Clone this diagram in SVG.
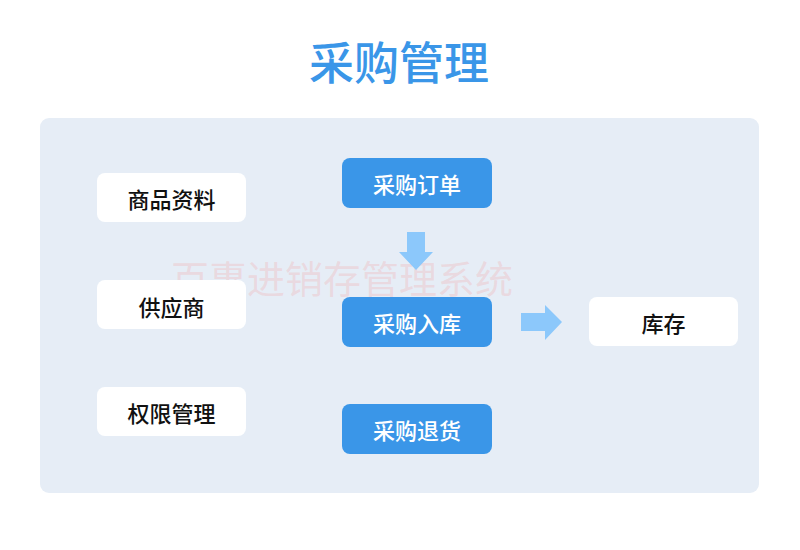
<svg xmlns="http://www.w3.org/2000/svg" width="800" height="550" viewBox="0 0 800 550">
<style>
text{font-family:"Noto Sans CJK SC","Noto Sans",sans-serif;text-anchor:middle;dominant-baseline:central}
.w{fill:#ffffff}
.b{fill:#3a96e8}
.t{font-size:22px;fill:#111;font-weight:500}
.tb{font-size:22px;fill:#fff;font-weight:500}
.ar{fill:#8cc8fb}
</style>
<rect width="800" height="550" fill="#ffffff"/>
<text x="399" y="60" font-size="45" fill="#3a96e8" font-weight="500">采购管理</text>
<rect x="40" y="118" width="719" height="375" rx="9" fill="#e6edf6"/>
<text x="342" y="276" font-size="38" fill="#f2a9a9" fill-opacity="0.3">百惠进销存管理系统</text>
<g id="n1"><rect class="w" x="97" y="173" width="149" height="49" rx="8"/><text class="t" x="171.5" y="198">商品资料</text></g>
<g id="n2"><rect class="w" x="97" y="280" width="149" height="49" rx="8"/><text class="t" x="171.5" y="306">供应商</text></g>
<g id="n3"><rect class="w" x="97" y="387" width="149" height="49" rx="8"/><text class="t" x="171.5" y="412">权限管理</text></g>
<g id="n4"><rect class="b" x="342" y="158" width="150" height="50" rx="8"/><text class="tb" x="417" y="183">采购订单</text></g>
<g id="n5"><rect class="b" x="342" y="297" width="150" height="50" rx="8"/><text class="tb" x="417" y="322">采购入库</text></g>
<g id="n6"><rect class="b" x="342" y="404" width="150" height="50" rx="8"/><text class="tb" x="417" y="429">采购退货</text></g>
<g id="n7"><rect class="w" x="589" y="297" width="149" height="49" rx="8"/><text class="t" x="663.5" y="322">库存</text></g>
<g id="connectors">
<polygon class="ar" points="407,232 425,232 425,252 433,252 416,270 399,252 407,252"/>
<polygon class="ar" points="521,313 545,313 545,305 562,322 545,340 545,331 521,331"/>
</g>
</svg>
